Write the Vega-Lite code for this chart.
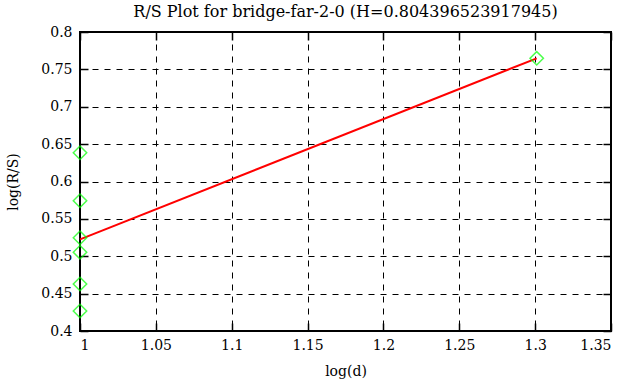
{
  "$schema": "https://vega.github.io/schema/vega-lite/v6.json",
  "width": 531,
  "height": 299,
  "autosize": {"type": "none"},
  "padding": {"left": 80, "top": 32, "right": 20, "bottom": 56},
  "background": "white",
  "config": {
    "font": "DejaVu Serif",
    "view": {"stroke": "black", "strokeWidth": 2},
    "axis": {
      "labelFont": "DejaVu Serif",
      "titleFont": "DejaVu Serif",
      "labelFontSize": 14,
      "titleFontSize": 14,
      "labelColor": "black",
      "titleColor": "black",
      "titleFontWeight": "normal",
      "domain": false,
      "tickColor": "black",
      "tickSize": -8,
      "tickWidth": 1.5,
      "grid": true,
      "gridColor": "black",
      "gridDash": [6, 6],
      "gridWidth": 1,
      "gridOpacity": 1
    }
  },
  "title": {
    "text": "R/S Plot for bridge-far-2-0 (H=0.804396523917945)",
    "font": "DejaVu Serif",
    "fontSize": 16,
    "fontWeight": "normal",
    "color": "black",
    "anchor": "middle",
    "offset": 5
  },
  "datasets": {
    "points": [
      {"logd": 1.0, "logrs": 0.6385},
      {"logd": 1.0, "logrs": 0.5743},
      {"logd": 1.0, "logrs": 0.5248},
      {"logd": 1.0, "logrs": 0.5053},
      {"logd": 1.0, "logrs": 0.4629},
      {"logd": 1.0, "logrs": 0.4268},
      {"logd": 1.30103, "logrs": 0.7648}
    ],
    "fit": [
      {"logd": 1.0, "logrs": 0.5226},
      {"logd": 1.30103, "logrs": 0.7648}
    ]
  },
  "layer": [
    {
      "data": {"name": "fit"},
      "mark": {"type": "line", "color": "#ff0000", "strokeWidth": 2},
      "encoding": {
        "x": {"field": "logd", "type": "quantitative", "scale": {"domain": [1, 1.35], "nice": false, "zero": false},
              "axis": {"title": "log(d)", "values": [1, 1.05, 1.1, 1.15, 1.2, 1.25, 1.3, 1.35], "format": "~g", "labelPadding": 15, "titlePadding": 12}},
        "y": {"field": "logrs", "type": "quantitative", "scale": {"domain": [0.4, 0.8], "nice": false, "zero": false},
              "axis": {"title": "log(R/S)", "values": [0.4, 0.45, 0.5, 0.55, 0.6, 0.65, 0.7, 0.75, 0.8], "format": "~g", "labelPadding": 16, "titlePadding": 20}}
      }
    },
    {
      "data": {"name": "points"},
      "mark": {"type": "point", "shape": "diamond", "filled": false, "color": "#00ff00", "size": 180, "strokeWidth": 1.5},
      "encoding": {
        "x": {"field": "logd", "type": "quantitative",
              "axis": {"orient": "top", "title": null, "labels": false, "grid": false, "values": [1, 1.05, 1.1, 1.15, 1.2, 1.25, 1.3, 1.35]}},
        "y": {"field": "logrs", "type": "quantitative",
              "axis": {"orient": "right", "title": null, "labels": false, "grid": false, "values": [0.4, 0.45, 0.5, 0.55, 0.6, 0.65, 0.7, 0.75, 0.8]}}
      }
    }
  ],
  "resolve": {"axis": {"x": "independent", "y": "independent"}}
}
